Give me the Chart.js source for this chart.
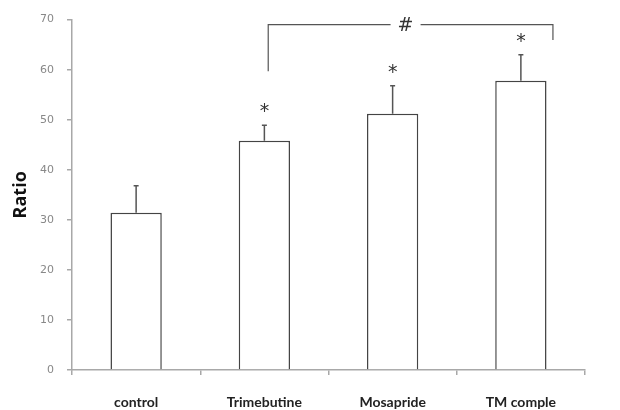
<!DOCTYPE html>
<html>
<head>
<meta charset="utf-8">
<script src="https://cdn.jsdelivr.net/npm/chart.js@4.4.0/dist/chart.umd.min.js"></script>
<style>
html,body{margin:0;padding:0;background:#fff;}
#wrap{width:620px;height:410px;position:relative;}
</style>
</head>
<body>
<div id="wrap"><canvas id="c" width="620" height="410"></canvas></div>
<script>
// ---- data ----
const categories = ["control", "Trimebutine", "Mosapride", "TM comple"];
const ratioValues = [31.4, 45.8, 51.2, 57.8];
const ratioErrors = [5.4, 3.1, 5.6, 5.2];
const significant = [false, true, true, true];
const yTicks = [0, 10, 20, 30, 40, 50, 60, 70];
const bracketFrom = 1.03, bracketTo = 3.25;
const bracketLevel = 69.0;
const bracketLeftEnd = 59.7;
const bracketRightEnd = 65.9;
const bracketLabel = "#";

const annotPlugin = {
  id: 'annot',
  afterDatasetsDraw(chart) {
    const ctx = chart.ctx;
    const x = chart.scales.x, y = chart.scales.y;
    ctx.save();
    ctx.strokeStyle = '#555';
    ctx.lineWidth = 1.5;
    ratioValues.forEach((v, i) => {
      const cx = x.getPixelForValue(i);
      const y0 = y.getPixelForValue(v);
      const y1 = y.getPixelForValue(v + ratioErrors[i]);
      ctx.beginPath();
      ctx.moveTo(cx, y0); ctx.lineTo(cx, y1);
      ctx.moveTo(cx - 2.5, y1); ctx.lineTo(cx + 2.5, y1);
      ctx.stroke();
      if (significant[i]) {
        ctx.fillStyle = '#333';
        ctx.font = '19px "DejaVu Sans"';
        ctx.textAlign = 'center';
        ctx.textBaseline = 'middle';
        ctx.fillText('*', cx, y1 - 13);
      }
    });
    const xa = x.getPixelForValue(bracketFrom);
    const xb = x.getPixelForValue(bracketTo);
    const yl = y.getPixelForValue(bracketLevel);
    const mid = (xa + xb) / 2;
    ctx.strokeStyle = '#555';
    ctx.lineWidth = 1.2;
    ctx.beginPath();
    ctx.moveTo(xa, y.getPixelForValue(bracketLeftEnd));
    ctx.lineTo(xa, yl);
    ctx.lineTo(mid - 20, yl);
    ctx.moveTo(mid + 10, yl);
    ctx.lineTo(xb, yl);
    ctx.lineTo(xb, y.getPixelForValue(bracketRightEnd));
    ctx.stroke();
    ctx.fillStyle = '#333';
    ctx.font = '19px "DejaVu Sans"';
    ctx.textAlign = 'center';
    ctx.textBaseline = 'middle';
    ctx.fillText(bracketLabel, mid - 5, yl + 1);
    ctx.restore();
  }
};

new Chart(document.getElementById('c'), {
  type: 'bar',
  data: {
    labels: categories,
    datasets: [{
      data: ratioValues,
      backgroundColor: '#ffffff',
      borderColor: '#444',
      borderWidth: 1.5,
      borderSkipped: 'bottom',
      categoryPercentage: 1.0,
      barPercentage: 0.4
    }]
  },
  options: {
    responsive: false,
    animation: false,
    devicePixelRatio: 1,
    layout: { padding: { top: 19, right: 35, left: 0, bottom: 0 } },
    plugins: { legend: { display: false }, tooltip: { enabled: false } },
    scales: {
      x: {
        offset: true,
        border: { color: '#a8a8a8', width: 1.5 },
        grid: { display: true, drawOnChartArea: false, offset: true, tickLength: 5, color: '#a8a8a8', lineWidth: 1.5 },
        ticks: { color: '#222', font: { family: 'Lato', weight: 'bold', size: 14 }, padding: 19 },
        afterFit(s) { s.height = 40; }
      },
      y: {
        min: 0, max: 70,
        afterBuildTicks(s) { s.ticks = yTicks.map(v => ({ value: v })); },
        border: { color: '#a8a8a8', width: 1.5 },
        grid: { display: true, drawOnChartArea: false, tickLength: 5, color: '#a8a8a8', lineWidth: 1.5 },
        ticks: { color: '#888', font: { family: 'DejaVu Sans', size: 11 }, padding: 13 },
        title: { display: true, text: 'Ratio', color: '#111', font: { family: 'Open Sans', weight: 'bold', size: 18 }, padding: { top: 10, bottom: 0 } },
        afterFit(s) { s.width = 72; }
      }
    }
  },
  plugins: [annotPlugin]
});
</script>
</body>
</html>
